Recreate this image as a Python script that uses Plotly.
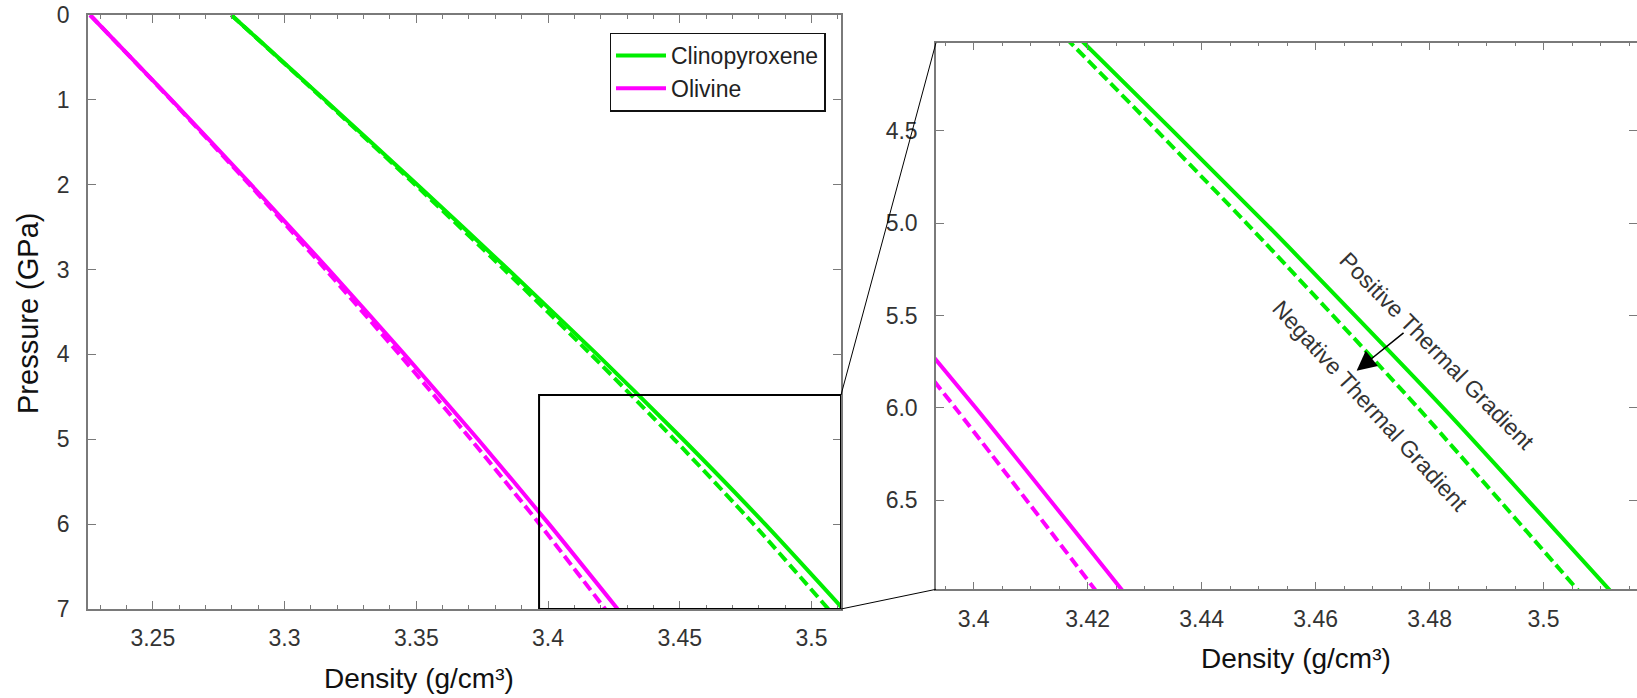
import plotly.graph_objects as go

# ---------------- data ----------------
pressure = [0, 1, 2, 3, 4, 5, 6, 7]                      # GPa
cpx_positive = [3.2798, 3.3153, 3.3504, 3.3849, 3.4186, 3.4512, 3.4824, 3.5120]
cpx_negative = [3.2798, 3.3150, 3.3496, 3.3834, 3.4163, 3.4479, 3.4780, 3.5064]
ol_positive = [3.2262, 3.2571, 3.2873, 3.3168, 3.3455, 3.3734, 3.4004, 3.4264]
ol_negative = [3.2262, 3.2569, 3.2867, 3.3156, 3.3436, 3.3707, 3.3968, 3.4217]

main_xticks = [3.25, 3.3, 3.35, 3.4, 3.45, 3.5]
main_xtext = ["3.25", "3.3", "3.35", "3.4", "3.45", "3.5"]
main_yticks = [0, 1, 2, 3, 4, 5, 6, 7]
main_ytext = ["0", "1", "2", "3", "4", "5", "6", "7"]
zoom_xticks = [3.40, 3.42, 3.44, 3.46, 3.48, 3.50]
zoom_xtext = ["3.4", "3.42", "3.44", "3.46", "3.48", "3.5"]
zoom_yticks = [4.5, 5.0, 5.5, 6.0, 6.5]
zoom_ytext = ["4.5", "5.0", "5.5", "6.0", "6.5"]

# ---------------- styling ----------------
W, H = 1637, 698
GREEN = "#00ee00"
MAGENTA = "#ff00ff"
AXIS = "#7a7a7a"
FONT = "Arial, Liberation Sans, sans-serif"
TICKC = "#333333"
DASH = "11px,5px"
LW = 4

main_xrange = [3.2254, 3.5112]
main_yrange = [7, 0]
zoom_xrange = [3.3934, 3.5164]
zoom_yrange = [6.982, 4.022]
box_x = [3.3966, 3.5112]
box_y = [4.478, 7.0]

xd1 = [88 / W, 841 / W]
yd1 = [(H - 609) / H, (H - 15) / H]
xd2 = [936 / W, 1.0]
yd2 = [(H - 589.3) / H, (H - 42.7) / H]

fig = go.Figure()

series = [
    ("Clinopyroxene", cpx_positive, GREEN, "solid", True),
    ("Olivine", ol_positive, MAGENTA, "solid", True),
    ("Clinopyroxene (negative)", cpx_negative, GREEN, DASH, False),
    ("Olivine (negative)", ol_negative, MAGENTA, DASH, False),
]
for ax in ("", "2"):
    for name, vals, col, dash, leg in series:
        fig.add_trace(go.Scatter(
            x=vals, y=pressure, mode="lines", name=name,
            line=dict(color=col, width=LW, dash=dash, shape="spline", smoothing=0.6),
            showlegend=(leg and ax == ""), xaxis="x" + ax, yaxis="y" + ax,
            legendgroup=name, hoverinfo="skip"))

common = dict(showline=True, linecolor=AXIS, linewidth=1.5, mirror="ticks",
              ticks="inside", ticklen=8, tickwidth=1.3, tickcolor=AXIS,
              showgrid=False, zeroline=False, automargin=False,
              tickfont=dict(family=FONT, size=23, color=TICKC))

fig.update_layout(
    width=W, height=H, margin=dict(l=0, r=0, t=0, b=0),
    plot_bgcolor="white", paper_bgcolor="white",
    font=dict(family=FONT, color="#222"),
    xaxis=dict(domain=xd1, range=main_xrange, tickmode="array", tickvals=main_xticks,
               ticktext=main_xtext, anchor="y", ticklabelstandoff=8,
               minor=dict(ticks="inside", ticklen=4, tickwidth=1.2, tickcolor=AXIS,
                          tick0=3.2, dtick=0.01), **common),
    yaxis=dict(domain=yd1, range=main_yrange, tickmode="array", tickvals=main_yticks,
               ticktext=main_ytext, anchor="x", ticklabelstandoff=12, **common),
    xaxis2=dict(domain=xd2, range=zoom_xrange, tickmode="array", tickvals=zoom_xticks,
                ticktext=zoom_xtext, anchor="y2", ticklabelstandoff=8,
                minor=dict(ticks="inside", ticklen=4, tickwidth=1.2, tickcolor=AXIS,
                           tick0=3.4, dtick=0.005), **common),
    yaxis2=dict(domain=yd2, range=zoom_yrange, tickmode="array", tickvals=zoom_yticks,
                ticktext=zoom_ytext, anchor="x2", ticklabelstandoff=12, **common),
    legend=dict(x=609.5 / W, y=1 - 32.5 / H, xanchor="left", yanchor="top",
                bgcolor="white", bordercolor="#111", borderwidth=1.5,
                font=dict(family=FONT, size=23, color="#222"),
                tracegroupgap=0, itemwidth=50),
)

# zoom box on main panel
fig.add_shape(type="rect", xref="x", yref="y", x0=box_x[0], x1=box_x[1],
              y0=box_y[0], y1=box_y[1], line=dict(color="black", width=2))

# connector lines (paper coords derived from domains / ranges)
def main_py(p):
    return yd1[0] + (main_yrange[0] - p) / (main_yrange[0] - main_yrange[1]) * (yd1[1] - yd1[0])

fig.add_shape(type="line", xref="paper", yref="paper", x0=xd1[1], y0=main_py(box_y[0]),
              x1=xd2[0], y1=yd2[1], line=dict(color="black", width=1))
fig.add_shape(type="line", xref="paper", yref="paper", x0=xd1[1], y0=main_py(box_y[1]),
              x1=xd2[0], y1=yd2[0], line=dict(color="black", width=1))

# axis titles
title_font = dict(family=FONT, size=28, color="#111")
fig.add_annotation(text="Density (g/cm³)", xref="paper", yref="paper",
                   x=419 / W, y=1 - 678 / H, showarrow=False, font=title_font,
                   xanchor="center", yanchor="middle")
fig.add_annotation(text="Density (g/cm³)", xref="paper", yref="paper",
                   x=1296 / W, y=1 - 658 / H, showarrow=False, font=title_font,
                   xanchor="center", yanchor="middle")
fig.add_annotation(text="Pressure (GPa)", xref="paper", yref="paper",
                   x=28 / W, y=1 - 314 / H, showarrow=False,
                   font=dict(family=FONT, size=29, color="#111"),
                   textangle=-90, xanchor="center", yanchor="middle")

# gradient labels + arrow on zoom panel
lab_font = dict(family=FONT, size=23, color="#333")
fig.add_annotation(text="Positive Thermal Gradient", xref="x2", yref="y2",
                   x=3.4813, y=5.6914, showarrow=False, textangle=45.5, font=lab_font)
fig.add_annotation(text="Negative Thermal Gradient", xref="x2", yref="y2",
                   x=3.4696, y=5.9893, showarrow=False, textangle=47.5, font=lab_font)
fig.add_annotation(text="", xref="x2", yref="y2", axref="x2", ayref="y2",
                   x=3.4672, y=5.7981, ax=3.4757, ay=5.5869, showarrow=True,
                   arrowhead=2, arrowsize=2.6, arrowwidth=1.5, arrowcolor="black")

fig.write_html("out.html")
